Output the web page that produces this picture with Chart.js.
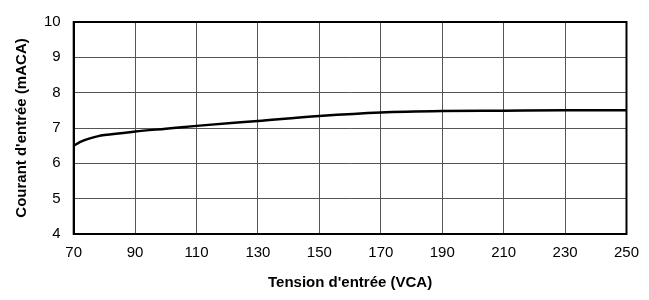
<!DOCTYPE html>
<html lang="fr">
<head>
    <meta charset="UTF-8">
    <title>Courant d'entrée</title>
    <style>
        html, body { margin: 0; padding: 0; background: #fff; }
        .wrap { width: 649px; height: 300px; }
    </style>
</head>
<body>
    <div class="wrap"><canvas id="chart" width="649" height="300"></canvas></div>
    <script src="https://cdn.jsdelivr.net/npm/chart.js@4/dist/chart.umd.min.js"></script>
    <script>
        // values
        const voltage = [70, 72, 75, 78, 80, 90, 100, 110, 130, 150, 170, 190, 210, 230, 250];
        const current = [6.5, 6.6, 6.7, 6.77, 6.8, 6.9, 6.98, 7.06, 7.2, 7.34, 7.44, 7.48, 7.49, 7.5, 7.5];

        const xTitle = "Tension d'entrée (VCA)";
        const yTitle = "Courant d'entrée (mACA)";

        const font = { family: "'Liberation Sans', Arial, sans-serif", size: 15 };

        new Chart(document.getElementById('chart'), {
            type: 'line',
            data: {
                datasets: [{
                    data: voltage.map((v, i) => ({ x: v, y: current[i] })),
                    borderColor: '#000',
                    borderWidth: 2.5,
                    pointRadius: 0,
                    fill: false,
                    cubicInterpolationMode: 'monotone'
                }]
            },
            options: {
                responsive: false,
                animation: false,
                layout: { padding: { top: 10, right: 13, left: 13, bottom: 8 } },
                plugins: { legend: { display: false }, tooltip: { enabled: false } },
                scales: {
                    x: {
                        type: 'linear',
                        min: 70, max: 250,
                        ticks: { stepSize: 20, color: '#000', font: font, padding: 10, maxRotation: 0 },
                        grid: { color: '#555', lineWidth: 1, drawTicks: false },
                        border: { color: '#000', width: 2 },
                        title: { display: true, text: xTitle, color: '#000', font: { ...font, weight: 'bold' }, padding: { top: 2, bottom: 0 } }
                    },
                    y: {
                        min: 4, max: 10,
                        ticks: { stepSize: 1, color: '#000', font: font, padding: 13 },
                        grid: { color: '#555', lineWidth: 1, drawTicks: false },
                        border: { color: '#000', width: 2 },
                        title: { display: true, text: yTitle, color: '#000', font: { ...font, weight: 'bold' }, padding: { top: 0, bottom: 0 } }
                    }
                }
            },
            plugins: [{
                id: 'frame',
                afterDraw(chart) {
                    const a = chart.chartArea, ctx = chart.ctx;
                    ctx.save();
                    ctx.strokeStyle = '#000';
                    ctx.lineWidth = 2;
                    ctx.strokeRect(a.left, a.top, a.right - a.left, a.bottom - a.top);
                    ctx.restore();
                }
            }]
        });
    </script>
</body>
</html>
